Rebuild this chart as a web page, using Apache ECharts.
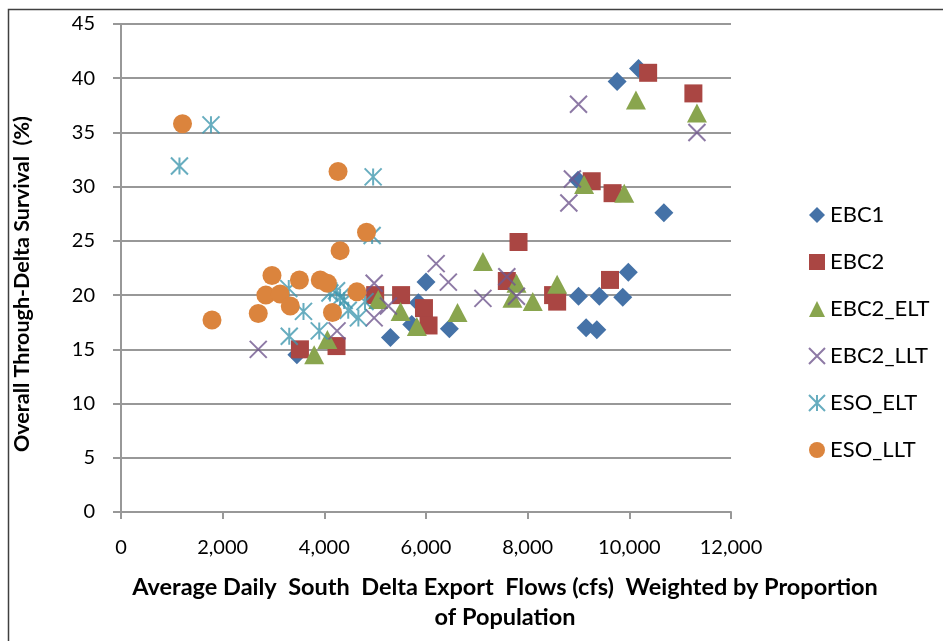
<!DOCTYPE html>
<html><head><meta charset="utf-8">
<script src="https://cdn.jsdelivr.net/npm/echarts@6/dist/echarts.min.js"></script>
<style>html,body{margin:0;padding:0;background:#fff}#c{width:943px;height:641px}</style>
</head><body><div id="c"></div>
<script>
// ---- data (x = cfs, y = survival %) ----
const seriesNames = ['EBC1', 'EBC2', 'EBC2_ELT', 'EBC2_LLT', 'ESO_ELT', 'ESO_LLT'];
const EBC1 = [[3460,14.5],[5300,16.1],[5720,17.3],[5850,19.3],[6000,21.2],[6460,16.9],[8990,30.6],[9000,19.9],[9150,17.0],[9360,16.8],[9410,19.9],[9870,19.8],[9980,22.1],[9760,39.7],[10180,40.9],[10680,27.6]];
const EBC2 = [[3520,15.0],[4240,15.3],[5000,20.0],[5510,20.0],[5960,18.8],[6050,17.2],[7590,21.3],[7820,24.9],[8500,20.0],[8580,19.4],[9620,21.4],[9260,30.5],[9670,29.4],[10370,40.5],[11260,38.6]];
const EBC2_ELT = [[3800,14.5],[4060,15.9],[5060,19.6],[5500,18.5],[5820,17.1],[6620,18.4],[7120,23.1],[7780,21.1],[7700,19.7],[8100,19.4],[8580,21.0],[9110,30.2],[9900,29.4],[10130,38.0],[11330,36.8]];
const EBC2_LLT = [[2700,15.0],[4250,16.7],[4980,21.1],[4980,17.9],[5260,19.0],[6200,22.9],[6440,21.2],[7120,19.7],[7590,21.7],[7780,19.9],[8880,30.7],[8810,28.5],[9000,37.6],[11330,35.0]];
const ESO_ELT = [[1150,31.9],[1770,35.7],[4960,30.9],[4940,25.5],[3590,18.5],[3310,16.2],[3900,16.7],[4110,20.2],[4240,20.4],[4310,19.8],[4390,19.5],[4470,18.6],[4670,17.9],[4800,19.4],[3300,20.6]];
const ESO_LLT = [[1210,35.8],[1790,17.7],[2700,18.3],[2850,20.0],[2970,21.8],[3130,20.1],[3330,19.0],[3510,21.4],[3920,21.4],[4060,21.1],[4160,18.4],[4270,31.4],[4310,24.1],[4640,20.3],[4830,25.8]];
const xTicks = { min: 0, max: 12000, interval: 2000 };
const yTicks = { min: 0, max: 45, interval: 5 };
const xTitle1 = 'Average Daily  South  Delta Export  Flows (cfs)  Weighted by Proportion';
const xTitle2 = 'of Population';
const yTitle = 'Overall Through-Delta Survival  (%)';

// ---- styles ----
const FONT = 'Lato, "Open Sans", sans-serif';
const GRID = '#989898';
const colors = ['#4572A7', '#AA4643', '#89A54E', '#71588F', '#4198AF', '#DB843D'];
const xPath = 'path://M0,0L10,10M10,0L0,10';
const starPath = 'path://M0,0L10,10M10,0L0,10M5,0L5,10';
const dataSets = [EBC1, EBC2, EBC2_ELT, EBC2_LLT, ESO_ELT, ESO_LLT];
const symbols = ['diamond', 'rect', 'triangle', xPath, starPath, 'circle'];
const sizes = [19, 18, [20, 19], 17, 17, 19];

const series = seriesNames.map((name, i) => {
  const stroke = i === 3 || i === 4;
  return {
    name, type: 'scatter', data: dataSets[i], symbol: symbols[i], symbolSize: sizes[i],
    itemStyle: stroke
      ? { color: colors[i], borderColor: colors[i], borderWidth: 2 }
      : { color: colors[i], opacity: 1 },
    emphasis: { disabled: true }
  };
});

const chart = echarts.init(document.getElementById('c'), null, { renderer: 'canvas' });
chart.setOption({
  animation: false,
  backgroundColor: '#fff',
  grid: { left: 121, top: 24, width: 610, height: 488, containLabel: false },
  xAxis: {
    type: 'value', min: xTicks.min, max: xTicks.max, interval: xTicks.interval,
    axisLine: { show: true, lineStyle: { color: GRID, width: 2 } },
    axisTick: { show: true, length: 7, lineStyle: { color: GRID, width: 2 } },
    splitLine: { show: false },
    axisLabel: { fontFamily: FONT, fontSize: 20, color: '#000', margin: 26,
      formatter: v => v.toLocaleString('en-US') }
  },
  yAxis: {
    type: 'value', min: yTicks.min, max: yTicks.max, interval: yTicks.interval,
    axisLine: { show: true, lineStyle: { color: GRID, width: 2 } },
    axisTick: { show: true, length: 8, lineStyle: { color: GRID, width: 2 } },
    splitLine: { show: true, lineStyle: { color: GRID, width: 2 } },
    axisLabel: { fontFamily: FONT, fontSize: 20, color: '#000', margin: 26 }
  },
  legend: {
    orient: 'vertical', left: 803, top: 199, itemWidth: 16, itemHeight: 16, itemGap: 25,
    textStyle: { fontFamily: FONT, fontSize: 22, color: '#000', lineHeight: 22 },
    data: seriesNames
  },
  graphic: [
    { type: 'rect', shape: { x: 8.5, y: 9.5, width: 1000, height: 1000 },
      style: { fill: 'none', stroke: '#404040', lineWidth: 1.5 }, silent: true, z: -1 },
    { type: 'text', x: 22, y: 284, rotation: Math.PI / 2,
      style: { text: yTitle, fontFamily: FONT, fontSize: 21.5, fontWeight: 'bold', fill: '#000',
        align: 'center', verticalAlign: 'middle' } },
    { type: 'text', x: 505, y: 587,
      style: { text: xTitle1, fontFamily: FONT, fontSize: 23.5, fontWeight: 'bold', fill: '#000',
        align: 'center', verticalAlign: 'middle' } },
    { type: 'text', x: 505, y: 617,
      style: { text: xTitle2, fontFamily: FONT, fontSize: 23.5, fontWeight: 'bold', fill: '#000',
        align: 'center', verticalAlign: 'middle' } }
  ],
  series
});
</script></body></html>
